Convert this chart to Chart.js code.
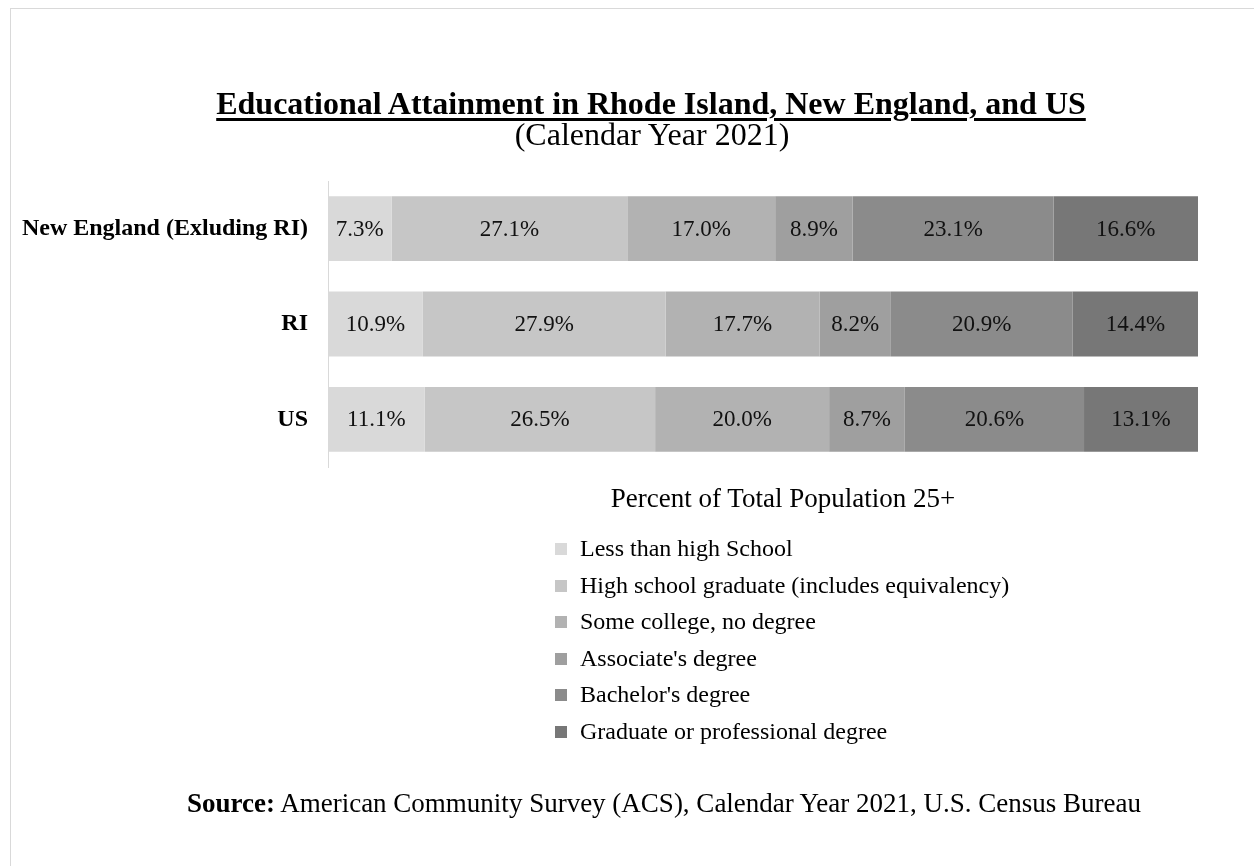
<!DOCTYPE html>
<html>
<head>
<meta charset="utf-8">
<script src="https://cdn.jsdelivr.net/npm/chart.js@4"></script>
<style>
  body { margin: 0; background: #fff; }
  #wrap { position: relative; width: 1254px; height: 866px; overflow: hidden;
          font-family: "Liberation Serif", "Times New Roman", serif; color: #000; }
  #frame { position: absolute; left: 10px; top: 8px; right: -2px; bottom: -2px;
           border-left: 1px solid #d9d9d9; border-top: 1px solid #d9d9d9; }
  #chart { position: absolute; left: 0; top: 0; }
  .txt { position: absolute; white-space: nowrap; text-align: center; line-height: 1.15; }
  #title { left: 51px; width: 1200px; top: 85px; font-size: 32px; font-weight: bold;
           text-decoration: underline; text-decoration-thickness: 3px; text-underline-offset: 4px; }
  #subtitle { left: 52px; width: 1200px; top: 116px; font-size: 32px; }
  #xtitle { left: 483px; width: 600px; top: 483px; font-size: 27px; }
  #legend { position: absolute; left: 555px; top: 530px; font-size: 24px; }
  #legend div { height: 36.6px; line-height: 36.6px; white-space: nowrap; }
  #legend span.box { display: inline-block; width: 12px; height: 12px; margin-right: 13px; vertical-align: 1px; }
  #source { left: 64px; width: 1200px; top: 788px; font-size: 27px; }
</style>
</head>
<body>
<div id="wrap">
  <div id="frame"></div>
  <canvas id="chart" width="1254" height="866"></canvas>
  <div class="txt" id="title">Educational Attainment in Rhode Island, New England, and US</div>
  <div class="txt" id="subtitle">(Calendar Year 2021)</div>
  <div class="txt" id="xtitle">Percent of Total Population 25+</div>
  <div id="legend"></div>
  <div class="txt" id="source"><b>Source:</b> American Community Survey (ACS), Calendar Year 2021, U.S. Census Bureau</div>
</div>
<script>
// regions shown on the y axis
const regions = ["New England (Exluding RI)", "RI", "US"];

// attainment levels (one stacked series each)
const levels = [
  "Less than high School",
  "High school graduate (includes equivalency)",
  "Some college, no degree",
  "Associate's degree",
  "Bachelor's degree",
  "Graduate or professional degree"
];

// percent values per level, in region order
const lessThanHS   = [7.3, 10.9, 11.1];
const hsGraduate   = [27.1, 27.9, 26.5];
const someCollege  = [17.0, 17.7, 20.0];
const associates   = [8.9, 8.2, 8.7];
const bachelors    = [23.1, 20.9, 20.6];
const graduateProf = [16.6, 14.4, 13.1];

const seriesValues = [lessThanHS, hsGraduate, someCollege, associates, bachelors, graduateProf];
const greys = ["#d9d9d9", "#c6c6c6", "#b2b2b2", "#9f9f9f", "#8b8b8b", "#777777"];

const serif = "'Liberation Serif', 'Times New Roman', serif";

// draws the value label in the middle of each bar segment
const segmentLabels = {
  id: "segmentLabels",
  afterDatasetsDraw(chart) {
    const ctx = chart.ctx;
    ctx.save();
    ctx.font = "23px " + serif;
    ctx.fillStyle = "#111";
    ctx.textAlign = "center";
    ctx.textBaseline = "middle";
    chart.data.datasets.forEach((ds, i) => {
      chart.getDatasetMeta(i).data.forEach((bar, j) => {
        const cx = (bar.x + bar.base) / 2;
        ctx.fillText(ds.data[j].toFixed(1) + "%", cx, bar.y + 1);
      });
    });
    ctx.restore();
  }
};

const chart = new Chart(document.getElementById("chart"), {
  type: "bar",
  data: {
    labels: regions,
    datasets: levels.map((name, i) => ({
      label: name,
      data: seriesValues[i],
      backgroundColor: greys[i],
      borderWidth: 0,
      barPercentage: 0.68,
      categoryPercentage: 1
    }))
  },
  options: {
    indexAxis: "y",
    responsive: false,
    animation: false,
    layout: { padding: { top: 181, left: 0, right: 56, bottom: 399 } },
    plugins: {
      legend: { display: false },
      tooltip: { enabled: false }
    },
    scales: {
      x: { stacked: true, min: 0, max: 100, display: false },
      y: {
        stacked: true,
        grid: { display: false, drawTicks: false },
        border: { display: true, color: "#d9d9d9", width: 1 },
        ticks: { color: "#000", padding: 20, font: { family: serif, size: 24, weight: "bold" } },
        afterFit(scale) { scale.width = 328; }
      }
    }
  },
  plugins: [segmentLabels]
});

// legend built from the chart's datasets
const legendBox = document.getElementById("legend");
chart.data.datasets.forEach(ds => {
  const row = document.createElement("div");
  row.innerHTML = '<span class="box" style="background:' + ds.backgroundColor + '"></span>' + ds.label;
  legendBox.appendChild(row);
});
</script>
</body>
</html>
